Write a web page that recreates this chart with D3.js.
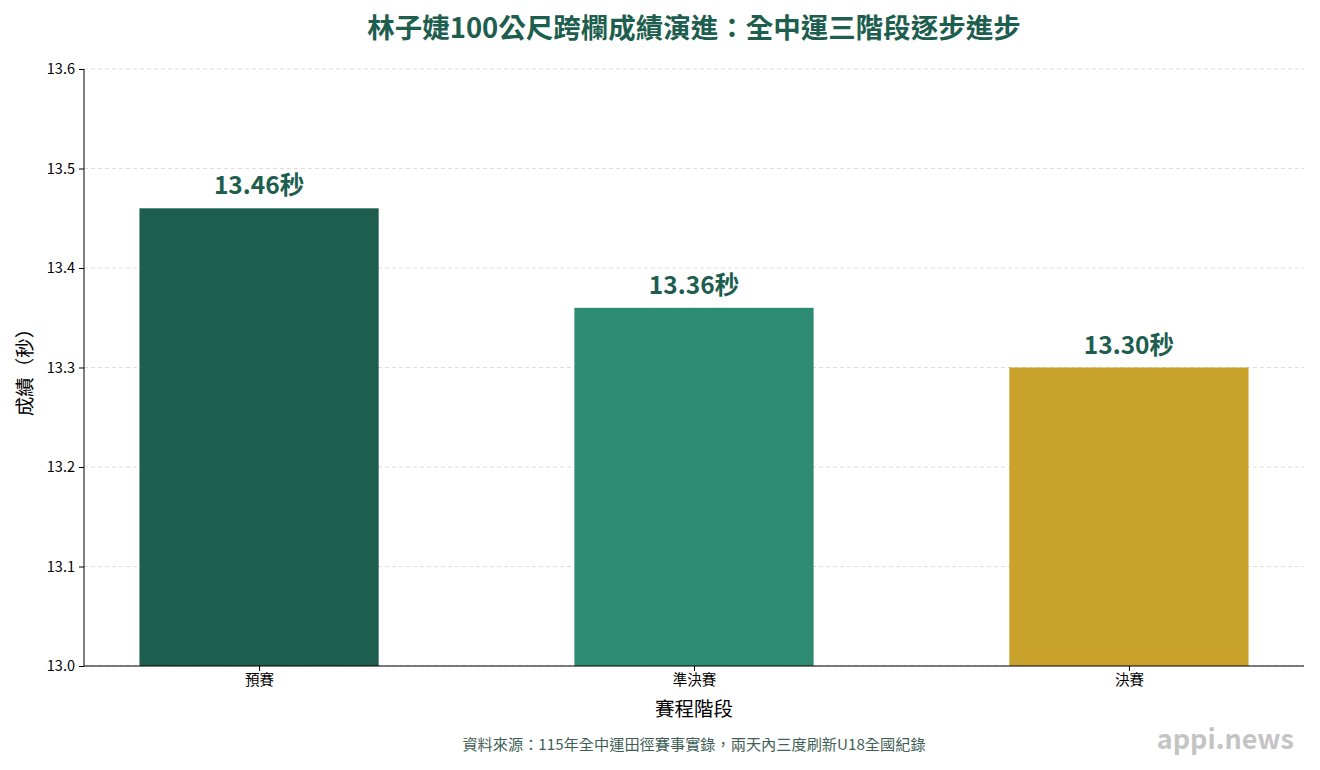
<!DOCTYPE html>
<html>
<head>
<meta charset="utf-8">
<script src="https://cdn.jsdelivr.net/npm/d3@7"></script>
<style>
  body { margin: 0; background: #fff; }
  text { font-family: "Noto Sans CJK TC", "Noto Sans", sans-serif; }
</style>
</head>
<body>
<div id="chart"></div>
<script>
// data
var stages = ["預賽", "準決賽", "決賽"];
var times = [13.46, 13.36, 13.30];
var barColors = ["#1d5e4e", "#2e8b73", "#c9a22c"];
var yTicks = [13.0, 13.1, 13.2, 13.3, 13.4, 13.5, 13.6];

var W = 1320, H = 770;
var plotL = 84, plotR = 1304, plotT = 69, plotB = 666;

var svg = d3.select("#chart").append("svg")
  .attr("width", W)
  .attr("height", H);

var x = d3.scaleLinear()
  .domain([-0.4025, stages.length - 1 + 0.4025])
  .range([plotL, plotR]);
var barW = x(0.55) - x(0);

var y = d3.scaleLinear()
  .domain([13.0, 13.6])
  .range([plotB, plotT]);

// grid
svg.append("g")
  .selectAll("line")
  .data(yTicks)
  .enter().append("line")
  .attr("x1", plotL).attr("x2", plotR)
  .attr("y1", d => y(d)).attr("y2", d => y(d))
  .attr("stroke", "#dddddd")
  .attr("stroke-width", 1)
  .attr("stroke-dasharray", "4,3");

// bars
svg.append("g")
  .selectAll("rect")
  .data(times)
  .enter().append("rect")
  .attr("x", (d, i) => x(i) - barW / 2)
  .attr("y", d => y(d))
  .attr("width", barW)
  .attr("height", d => y(13.0) - y(d))
  .attr("fill", (d, i) => barColors[i]);

// value labels
svg.append("g")
  .selectAll("text")
  .data(times)
  .enter().append("text")
  .attr("x", (d, i) => x(i))
  .attr("y", d => y(d) - 14)
  .attr("text-anchor", "middle")
  .attr("font-size", 24.5)
  .attr("font-weight", "bold")
  .attr("fill", "#1d5e4e")
  .text(d => d.toFixed(2) + "秒");

// axes
var yAxis = d3.axisLeft(y).tickValues(yTicks).tickFormat(d3.format(".1f")).tickSize(5).tickPadding(4);
var gy = svg.append("g")
  .attr("transform", "translate(" + plotL + ",0)")
  .call(yAxis);
gy.selectAll("text").attr("font-size", 14.5).attr("fill", "#000");

var xAxis = d3.axisBottom(x).tickValues(stages.map((s, i) => i))
  .tickFormat(i => stages[i]).tickSize(5).tickPadding(4).tickSizeOuter(0);
var gx = svg.append("g")
  .attr("transform", "translate(0," + plotB + ")")
  .call(xAxis);
gx.selectAll("text").attr("font-size", 14.5).attr("fill", "#000");
gx.select(".domain").attr("stroke", "#000").attr("d", "M" + plotL + ",0H" + plotR);
gy.select(".domain").attr("stroke", "#000").attr("d", "M0," + plotT + "V" + plotB);

// titles
svg.append("text")
  .attr("x", (plotL + plotR) / 2)
  .attr("y", 38)
  .attr("text-anchor", "middle")
  .attr("font-size", 27.5)
  .attr("font-weight", "bold")
  .attr("fill", "#1d5e4e")
  .text("林子婕100公尺跨欄成績演進：全中運三階段逐步進步");

svg.append("text")
  .attr("x", (plotL + plotR) / 2)
  .attr("y", 716)
  .attr("text-anchor", "middle")
  .attr("font-size", 19.5)
  .attr("fill", "#000")
  .text("賽程階段");

svg.append("text")
  .attr("transform", "translate(32," + ((plotT + plotB) / 2) + ") rotate(-90)")
  .attr("text-anchor", "middle")
  .attr("font-size", 19.5)
  .attr("fill", "#000")
  .text("成績（秒）");

svg.append("text")
  .attr("x", (plotL + plotR) / 2)
  .attr("y", 750)
  .attr("text-anchor", "middle")
  .attr("font-size", 15.2)
  .attr("fill", "#3f5f56")
  .text("資料來源：115年全中運田徑賽事實錄，兩天內三度刷新U18全國紀錄");

svg.append("text")
  .attr("x", 1294)
  .attr("y", 749)
  .attr("text-anchor", "end")
  .attr("font-size", 27)
  .attr("font-weight", "bold")
  .attr("fill", "#c4c4c4")
  .text("appi.news");
</script>
</body>
</html>
